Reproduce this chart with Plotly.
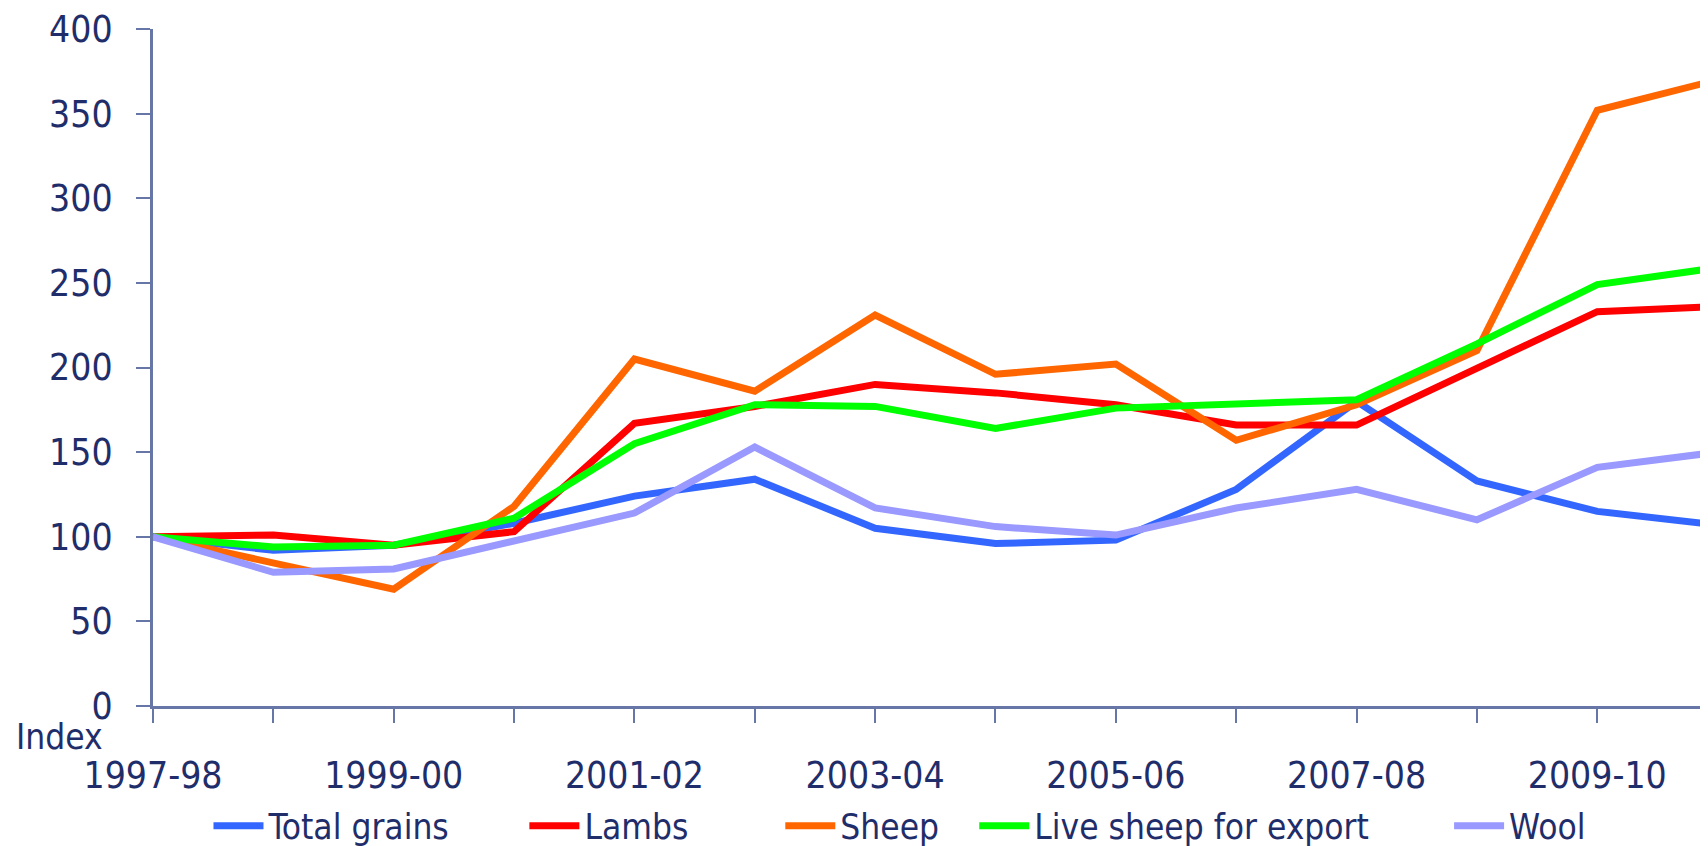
import plotly.graph_objects as go

years = ["1997-98", "1998-99", "1999-00", "2000-01", "2001-02", "2002-03", "2003-04",
         "2004-05", "2005-06", "2006-07", "2007-08", "2008-09", "2009-10", "2010-11"]
total_grains = [100, 92, 95, 108, 124, 134, 105, 96, 98, 128, 180, 133, 115, 107]
lambs = [100, 101, 95, 103, 167, 177, 190, 185, 178, 166, 166, 199, 233, 236]
sheep = [100, 84, 69, 118, 205, 186, 231, 196, 202, 157, 178, 210, 352, 370]
live_sheep = [100, 94, 95, 111, 155, 178, 177, 164, 176, 179, 181, 214, 249, 259]
wool = [100, 79, 81, 98, 114, 153, 117, 106, 101, 117, 128, 110, 141, 150]
y_ticks = [0, 50, 100, 150, 200, 250, 300, 350, 400]
labelled = ["1997-98", "1999-00", "2001-02", "2003-04", "2005-06", "2007-08", "2009-10"]

series = [("Total grains", total_grains, "#3366FF"),
          ("Lambs", lambs, "#FF0000"),
          ("Sheep", sheep, "#FF6600"),
          ("Live sheep for export", live_sheep, "#00FF00"),
          ("Wool", wool, "#9999FF")]

FONT = "DejaVu Sans Condensed, Carlito, Open Sans, sans-serif"
TXT = "#1F2E6A"
AX = "#6676A6"

# the page body has an 8px default margin; the figure is sized to fill the rest
OFF = 8
W, H = 1708 - OFF, 846 - OFF
L, T = 152.5 - OFF, 29 - OFF
B = H - (706 - OFF)
R = 0
PW, PH = W - L - R, H - T - B

def px_x(px):  # screen px -> paper x
    return (px - OFF - L) / PW

def px_y(py):  # screen px -> paper y
    return (H - B - (py - OFF)) / PH

legend_px = [214, 530, 786, 980, 1455]  # screen x where each legend sample starts

fig = go.Figure()
for i, (name, vals, col) in enumerate(series):
    lg = "legend" if i == 0 else f"legend{i+1}"
    fig.add_trace(go.Scatter(x=years, y=vals, name=name, mode="lines",
                             line=dict(color=col, width=7), legend=lg))

ticktext = [y if y in labelled else "" for y in years]

layout_legends = {}
for i in range(len(series)):
    key = "legend" if i == 0 else f"legend{i+1}"
    layout_legends[key] = dict(x=px_x(legend_px[i] - 6), xanchor="left",
                               y=px_y(826), yanchor="middle",
                               font=dict(size=35, color=TXT, family=FONT),
                               itemwidth=50, bgcolor="rgba(0,0,0,0)",
                               borderwidth=0)

fig.update_layout(
    width=W, height=H,
    margin=dict(l=L, r=R, t=T, b=B, autoexpand=False),
    paper_bgcolor="white", plot_bgcolor="white",
    font=dict(family=FONT, color=TXT, size=37),
    showlegend=True,
    xaxis=dict(type="category", range=[0, 12.92], tickmode="array",
               tickvals=years, ticktext=ticktext, automargin=False,
               ticklabeloverflow="allow",
               ticks="outside", ticklen=14, tickwidth=2, tickcolor=AX,
               showline=True, linecolor=AX, linewidth=3,
               showgrid=False, zeroline=False, ticklabelstandoff=21,
               tickfont=dict(size=37, color=TXT)),
    yaxis=dict(range=[0, 400], tickmode="array", tickvals=y_ticks, automargin=False,
               ticklabeloverflow="allow",
               ticks="outside", ticklen=14, tickwidth=2, tickcolor=AX,
               showline=True, linecolor=AX, linewidth=3,
               showgrid=False, zeroline=False, ticklabelstandoff=16,
               tickfont=dict(size=37, color=TXT)),
    **layout_legends,
)

fig.add_annotation(text="Index", xref="paper", yref="paper", x=px_x(59), y=px_y(737),
                   xanchor="center", yanchor="middle", showarrow=False,
                   font=dict(size=35, color=TXT))

fig.write_html("out.html")
